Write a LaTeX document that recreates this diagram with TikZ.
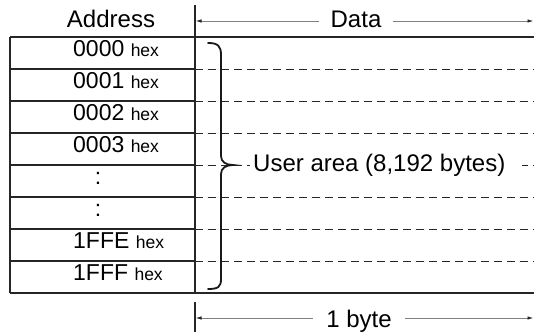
\documentclass[tikz,border=0pt]{standalone}
\usepackage{fontspec}
\setmainfont{Liberation Sans}
\usetikzlibrary{arrows.meta}
\tikzset{
  frame/.style={line width=1.2pt, black!85},
  sepline/.style={line width=0.9pt, black!85, dash pattern=on 8pt off 5pt},
  dimline/.style={line width=0.9pt, black!50, -{Latex[length=6pt,width=3.5pt,black!85]}},
  brace/.style={line width=1.8pt, black!90, line cap=round},
  big/.style={font=\fontsize{24}{26}\selectfont, inner sep=0pt},
  addr/.style={font=\fontsize{23}{25}\selectfont, inner sep=0pt, anchor=base west}
}
\newcommand{\hx}{ {\fontsize{17.5}{19}\selectfont hex}}
\begin{document}
\begin{tikzpicture}[x=1pt,y=-1pt]
\useasboundingbox (0,0) rectangle (534,336);
% table frame
\draw[frame] (10,37) -- (534,37);
\draw[frame] (10,293) -- (534,293);
\draw[frame] (10,37) -- (10,293);
\draw[frame] (195,5) -- (195,293);
% row separators
\foreach \y in {69,101,133,165,197,229,261} {
  \draw[frame] (10,\y) -- (195,\y);
  \draw[sepline] (195,\y) -- (534,\y);
}
% address labels
\node[big, anchor=base] (hdr) at (111,27.3) {Address};
\node[addr] (a0) at (73,56.7) {0000\hx};
\node[addr] (a1) at (73,88.7) {0001\hx};
\node[addr] (a2) at (73,120.7) {0002\hx};
\node[addr] (a3) at (73,152.7) {0003\hx};
\node[addr, anchor=base] (a4) at (98,184.7) {:};
\node[addr, anchor=base] (a5) at (98,216.7) {:};
\node[addr] (a6) at (73,248.7) {1FFE\hx};
\node[addr] (a7) at (73,280.7) {1FFF\hx};
% brace
\draw[brace] (208,43) .. controls (218,43) and (221,46) .. (221,55)
  -- (221,156) .. controls (221,162) and (226,165) .. (233,165)
  .. controls (226,165) and (221,168) .. (221,174)
  -- (221,279) .. controls (221,287) and (218,289) .. (208,289);
\node[big, fill=white, anchor=west, inner xsep=3pt, inner ysep=3pt] (ua) at (250,165) {User area (8,192 bytes)\hspace*{14pt}};
% data dimension
\coordinate (dl) at (195.5,21);
\coordinate (dr) at (533.5,21);
\node[big, anchor=base, inner xsep=11pt] (data) at (356,27.3) {Data};
\draw[dimline] (data.west |- dl) -- (dl);
\draw[dimline] (data.east |- dr) -- (dr);
% byte dimension
\coordinate (bl) at (195.5,318);
\coordinate (br) at (533.5,318);
\draw[frame] (195,302) -- (195,332);
\node[big, anchor=base, inner xsep=13pt] (byte) at (359,327) {1 byte};
\draw[dimline] (byte.west |- bl) -- (bl);
\draw[dimline] (byte.east |- br) -- (br);
\end{tikzpicture}
\end{document}
